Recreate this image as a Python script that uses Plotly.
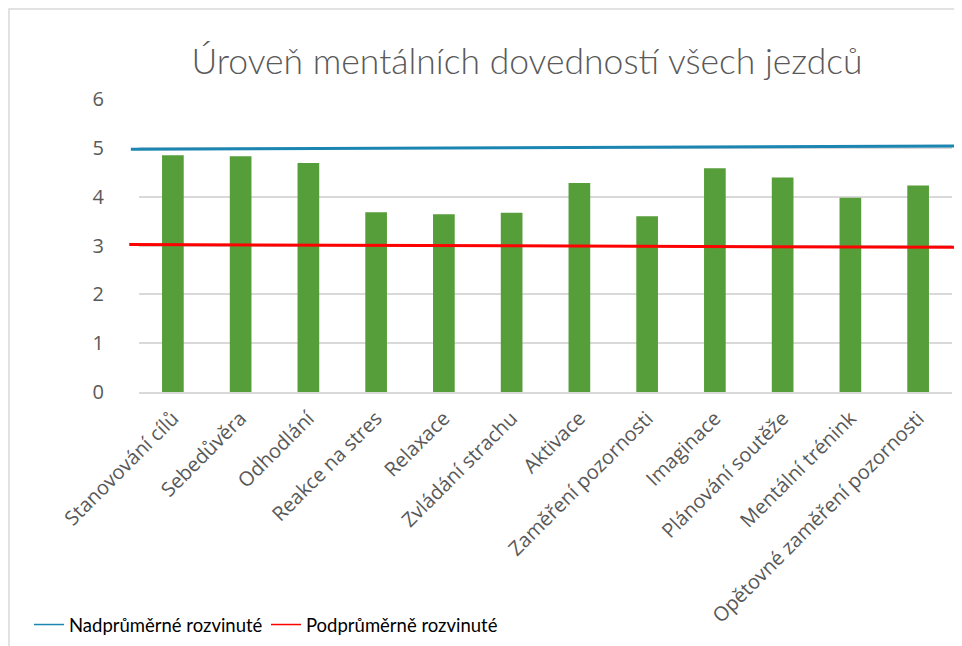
import plotly.graph_objects as go

categories = ["Stanovování cílů", "Sebedůvěra", "Odhodlání", "Reakce na stres", "Relaxace",
              "Zvládání strachu", "Aktivace", "Zaměření pozornosti", "Imaginace",
              "Plánování soutěže", "Mentální trénink", "Opětovné zaměření pozornosti"]
values = [4.85, 4.83, 4.69, 3.68, 3.64, 3.67, 4.28, 3.60, 4.58, 4.39, 3.98, 4.23]

upper_name = "Nadprůměrné rozvinuté"
upper_line = [4.97, 5.04]   # hand-drawn threshold, left -> right
lower_name = "Podprůměrně rozvinuté"
lower_line = [3.02, 2.96]

y_ticks = [0, 1, 2, 3, 4, 5, 6]

GREEN = "#559E3A"
BLUE = "#1B86B2"
RED = "#FF0000"
GREY_TXT = "#595959"

W, H = 962, 646
ML, MR, MT, MB = 131, 18, 91, 262
PW = W - ML - MR
PH = H - MT - MB

fig = go.Figure()
fig.add_trace(go.Bar(x=categories, y=values, marker=dict(color=GREEN, line=dict(width=0)),
                     showlegend=False, hoverinfo="x+y"))
# legend entries for the threshold lines
fig.add_trace(go.Scatter(x=[None], y=[None], mode="lines", name=upper_name,
                         line=dict(color=BLUE, width=1.5)))
fig.add_trace(go.Scatter(x=[None], y=[None], mode="lines", name=lower_name,
                         line=dict(color=RED, width=1.5)))

# threshold lines extend past the plot area
fig.add_shape(type="line", xref="paper", yref="y", x0=-0.01, x1=1.05,
              y0=upper_line[0], y1=upper_line[1], line=dict(color=BLUE, width=3), layer="above")
fig.add_shape(type="line", xref="paper", yref="y", x0=-0.012, x1=1.05,
              y0=lower_line[0], y1=lower_line[1], line=dict(color=RED, width=3), layer="above")
# chart border
fig.add_shape(type="rect", xref="paper", yref="paper",
              x0=-(ML - 1) / PW, x1=(W - ML + 20) / PW, y0=-(MB + 20) / PH, y1=1 + (MT - 1) / PH,
              line=dict(color="#D9D9D9", width=1.5), layer="below")

fig.update_layout(
    width=W, height=H,
    margin=dict(l=ML, r=MR, t=MT, b=MB, autoexpand=False),
    paper_bgcolor="white", plot_bgcolor="white",
    title=dict(text="Úroveň mentálních dovedností všech jezdců", x=(527 - 8) / W, xanchor="center",
               y=1 - (62 - 8) / H, yanchor="middle",
               font=dict(family="Lato", size=35.5, color=GREY_TXT, weight=300)),
    bargap=0.68,
    showlegend=True,
    legend=dict(orientation="h", xref="container", yref="container",
                x=(29 - 8) / W, xanchor="left", y=1 - (625 - 8) / H, yanchor="middle",
                font=dict(family="Lato", size=18.5, color="black"),
                bgcolor="rgba(0,0,0,0)", entrywidth=192, entrywidthmode="pixels",
                itemwidth=30),
    font=dict(family="Open Sans", color=GREY_TXT),
)
fig.update_yaxes(range=[0, 6], tickvals=y_ticks, showgrid=True, gridcolor="#D9D9D9", gridwidth=1.5,
                 zeroline=False, showline=False, ticks="", ticklabelstandoff=34, automargin=False,
                 tickfont=dict(family="Open Sans", size=20, color=GREY_TXT), fixedrange=True)
fig.update_xaxes(tickangle=-45, showline=True, linecolor="#D9D9D9", linewidth=1.5, ticks="",
                 automargin=False, ticklabelstandoff=5,
                 tickfont=dict(family="Open Sans", size=20, color=GREY_TXT), fixedrange=True)

fig.write_html("out.html")
